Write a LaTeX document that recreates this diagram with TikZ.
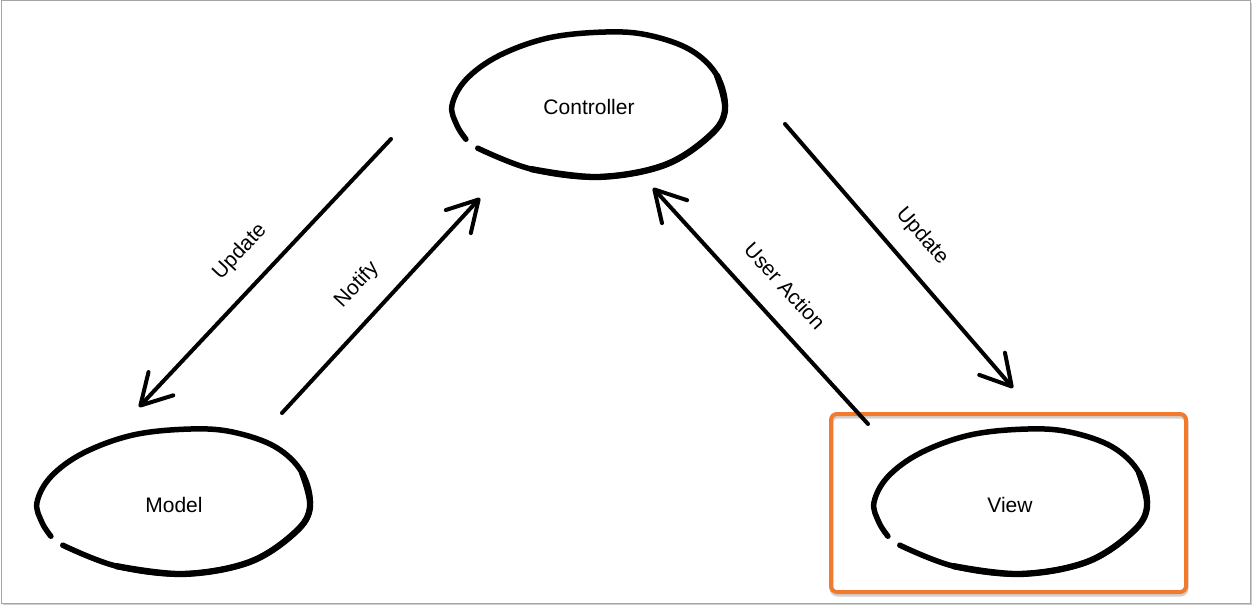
\documentclass[tikz,border=0pt]{standalone}
\usepackage{fontspec}
\setmainfont{Liberation Sans}
\usetikzlibrary{arrows.meta}

\definecolor{frameorange}{RGB}{242,122,45}
\definecolor{framegray}{RGB}{165,165,165}
\definecolor{shadowgray}{RGB}{205,205,205}

\tikzset{
  label text/.style={font=\fontsize{21}{25}\selectfont, inner sep=0pt},
  ink/.style={line width=5.5pt, line cap=round, line join=round, black},
  flow/.style={line width=4pt, line cap=round, black,
    -{Straight Barb[length=30pt, width=34pt, round]}},
  % hand-drawn oval with a small break at the lower left
  handoval/.pic={
    \draw[ink, xscale=138, yscale=74] plot[smooth, tension=0.6] coordinates {
      (-0.806,0.577) (-0.417,0.86) (0.065,0.966) (0.547,0.805) (0.878,0.403)
      (0.986,0.054) (0.928,-0.403) (0.734,-0.752) (0.424,-0.953) (0.115,-0.993)
      (-0.295,-0.913) (-0.655,-0.671) (-0.892,-0.349) (-0.993,0) (-0.957,0.268)
      (-0.892,0.456)};
    \draw[ink, line width=6.3pt, xscale=138, yscale=74] plot[smooth, tension=0.6] coordinates {
      (-0.417,0.86) (0.065,0.966) (0.547,0.805) (0.878,0.403) (0.986,0.054)
      (0.928,-0.403)};
  }
}

\begin{document}
\begin{tikzpicture}[x=1pt, y=-1pt]
  \useasboundingbox (0,0) rectangle (1252,608);

  % page frame with a soft drop shadow
  \fill[shadowgray] (3,3) rectangle (1251.5,605);
  \filldraw[fill=white, draw=framegray, line width=1pt] (1.5,0.5) rectangle (1250,603);

  % the three parts
  \node[label text] (controller) at (589,107) {Controller};
  \node[label text] (model) at (174,505) {Model};
  \node[label text] (view) at (1010,505) {View};

  \pic at (589,105.5) {handoval};
  \pic at (174,502.5) {handoval};
  \pic at (1011,502.5) {handoval};

  % highlight around the view, with a faint shadow
  \draw[black!18, line width=4pt, rounded corners=6pt]
        (831.5,416.5) rectangle (1186.5,594.5);
  \node[draw=frameorange, line width=4pt, rounded corners=6pt,
        minimum width=355pt, minimum height=178pt, inner sep=0pt]
        (viewframe) at (1008.5,503) {};

  % arrow end points
  \coordinate (updAs) at (391,139);
  \coordinate (updAe) at (139,407);
  \coordinate (notS)  at (282,413);
  \coordinate (notE)  at (480,198);
  \coordinate (usrS)  at (868,424);
  \coordinate (usrE)  at (653,188);
  \coordinate (updBs) at (785,124);
  \coordinate (updBe) at (1013,388);

  \draw[flow] (updAs) -- (updAe);
  \draw[flow] (notS) -- (notE);
  \draw[flow] (usrS) -- (usrE);
  \draw[flow] (updBs) -- (updBe);

  % arrow labels
  \node[label text, rotate=47]   (lblupdA) at (240,252) {Update};
  \node[label text, rotate=47]   (lblnot)  at (357,285) {Notify};
  \node[label text, rotate=-47.7] (lblusr) at (785,286) {User Action};
  \node[label text, rotate=-49]  (lblupdB) at (922,236) {Update};
\end{tikzpicture}
\end{document}
